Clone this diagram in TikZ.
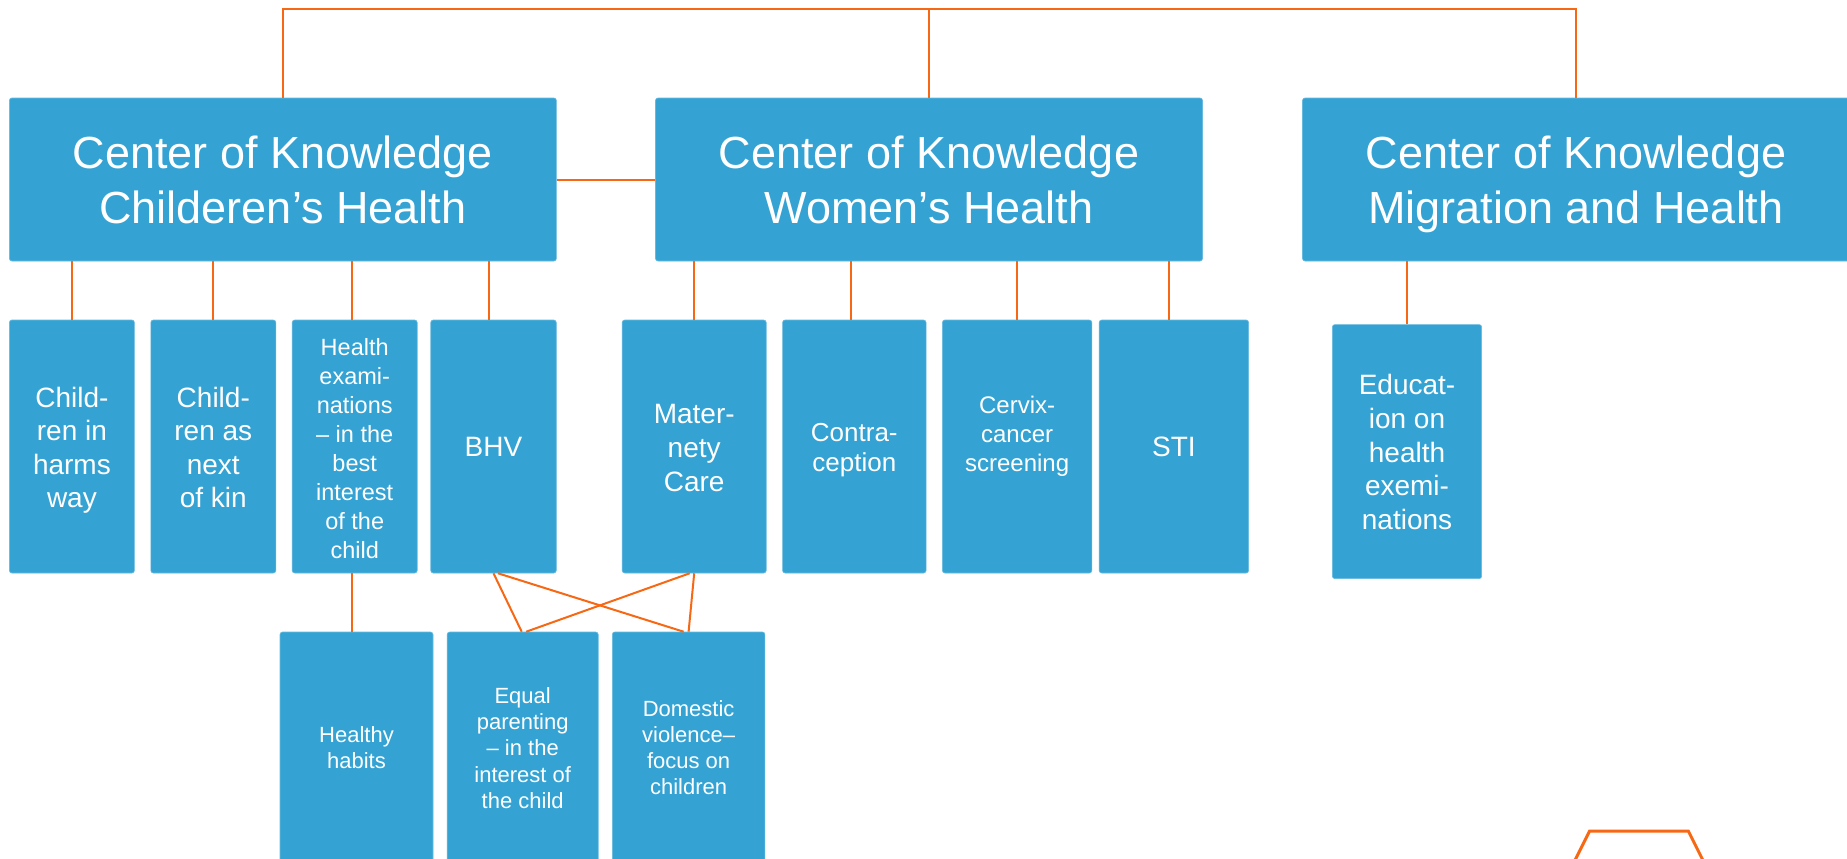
\documentclass[tikz,border=0pt]{standalone}
\usepackage{fontspec}
\setmainfont{Liberation Sans}
\definecolor{boxblue}{RGB}{52,163,212}
\definecolor{lineor}{RGB}{247,104,20}
\newcommand\ktop[1]{\rule{0pt}{#1pt}}
\newcommand\kbot[1]{\rule[-#1pt]{0pt}{#1pt}}
\tikzset{
  box/.style={fill=boxblue, draw=boxblue!75!white, line width=0.6pt, rounded corners=2.5pt,
              inner sep=0pt, align=center, text=white, anchor=center},
  conn/.style={draw=lineor, line width=2pt},
  fbig/.style={font=\fontsize{45}{55}\selectfont},
  fmid/.style={font=\fontsize{28}{33.5}\selectfont},
  fsmall/.style={font=\fontsize{22}{26.3}\selectfont},
  mainbox/.style={box, fbig, minimum width=547pt, minimum height=163pt},
  midbox/.style={box, minimum height=253pt},
  lowbox/.style={box, fsmall, minimum height=230pt}
}
\begin{document}
\begin{tikzpicture}[x=1pt,y=-1pt]
\useasboundingbox (0,0) rectangle (1847,859);
\fill[white] (0,0) rectangle (1847,859);

% main boxes
\node[mainbox] (m1) at (282.9,179.5) {\ktop{42}Center of Knowledge\\Childeren’s Health\kbot{10}};
\node[mainbox] (m2) at (929,179.5) {\ktop{42}Center of Knowledge\\Women’s Health\kbot{10}};
\node[mainbox] (m3) at (1576,179.5) {\ktop{42}Center of Knowledge\\Migration and Health\kbot{10}};

% second row
\node[midbox, fmid, minimum width=125pt] (c1) at (71.9,446.5) {\ktop{31.6}Child-\\ren in\\harms\\way\kbot{10}};
\node[midbox, fmid, minimum width=125pt] (c2) at (213.3,446.5) {\ktop{31.6}Child-\\ren as\\next\\of kin\kbot{10}};
\node[midbox, font=\fontsize{23.5}{29}\selectfont, minimum width=125pt] (c3) at (354.7,446.5) {\ktop{31.4}Health\\exami-\\nations\\– in the\\best\\interest\\of the\\child\kbot{10}};
\node[midbox, fmid, minimum width=125.5pt] (c4) at (493.5,446.5) {\ktop{30.4}BHV\kbot{10}};
\node[midbox, font=\fontsize{28}{34}\selectfont, minimum width=144pt] (w1) at (694.2,446.5) {\ktop{31}Mater-\\nety\\Care\kbot{10}};
\node[midbox, font=\fontsize{26}{30}\selectfont, minimum width=143.5pt] (w2) at (854.3,446.5) {\ktop{30.4}Contra-\\ception\kbot{10}};
\node[midbox, font=\fontsize{24}{29}\selectfont, minimum width=149.4pt] (w3) at (1017.1,446.5) {\ktop{22}Cervix-\\cancer\\screening\kbot{30}};
\node[midbox, fmid, minimum width=149.4pt] (w4) at (1173.9,446.5) {\ktop{30.4}STI\kbot{10}};
\node[box, font=\fontsize{28}{33.6}\selectfont, minimum width=149.3pt, minimum height=254pt] (edu) at (1407,451.6) {\ktop{30.9}Educat-\\ion on\\health\\exemi-\\nations\kbot{10}};

% third row
\node[lowbox, minimum width=153pt] (h) at (356.5,747) {\ktop{27}Healthy\\habits\kbot{10}};
\node[lowbox, minimum width=151pt] (e) at (522.7,747) {\ktop{27.7}Equal\\parenting\\– in the\\interest of\\the child\kbot{10}};
\node[lowbox, minimum width=152.6pt] (d) at (688.6,747) {\ktop{27}Domestic\\violence–\\focus on\\children\kbot{10}};

% top connector
\coordinate (top) at (0,9.5);
\draw[conn] (m1.north) -- (m1.north |- top) -| (m3.north);
\draw[conn] (m2.north) -- (m2.north |- top);
\draw[conn] (m1.east) -- (m2.west);

% main to second row
\draw[conn] (c1.north) -- (c1.north |- m1.south);
\draw[conn] (c2.north) -- (c2.north |- m1.south);
\draw[conn] ([xshift=-2.3pt]c3.north) -- ([xshift=-2.3pt]c3.north |- m1.south);
\draw[conn] ([xshift=-4.5pt]c4.north) -- ([xshift=-4.5pt]c4.north |- m1.south);
\draw[conn] (w1.north) -- (w1.north |- m2.south);
\draw[conn] ([xshift=-3.3pt]w2.north) -- ([xshift=-3.3pt]w2.north |- m2.south);
\draw[conn] (w3.north) -- (w3.north |- m2.south);
\draw[conn] ([xshift=-5pt]w4.north) -- ([xshift=-5pt]w4.north |- m2.south);
\draw[conn] (edu.north) -- (edu.north |- m3.south);

% second to third row
\draw[conn] ([xshift=-2.3pt]c3.south) -- ([xshift=-2.3pt]c3.south |- h.north);
\draw[conn] (c4.south) -- ([xshift=-1pt]e.north);
\draw[conn] ([xshift=4.5pt]c4.south) -- ([xshift=-5pt]d.north);
\draw[conn] ([xshift=-4.5pt]w1.south) -- ([xshift=3.5pt]e.north);
\draw[conn] (w1.south) -- (d.north);

% decorative shape at bottom right
\draw[lineor, line width=3pt, line join=miter] (1567.6,875) -- (1589.6,831) -- (1688.3,831) -- (1710.3,875);
\end{tikzpicture}
\end{document}
